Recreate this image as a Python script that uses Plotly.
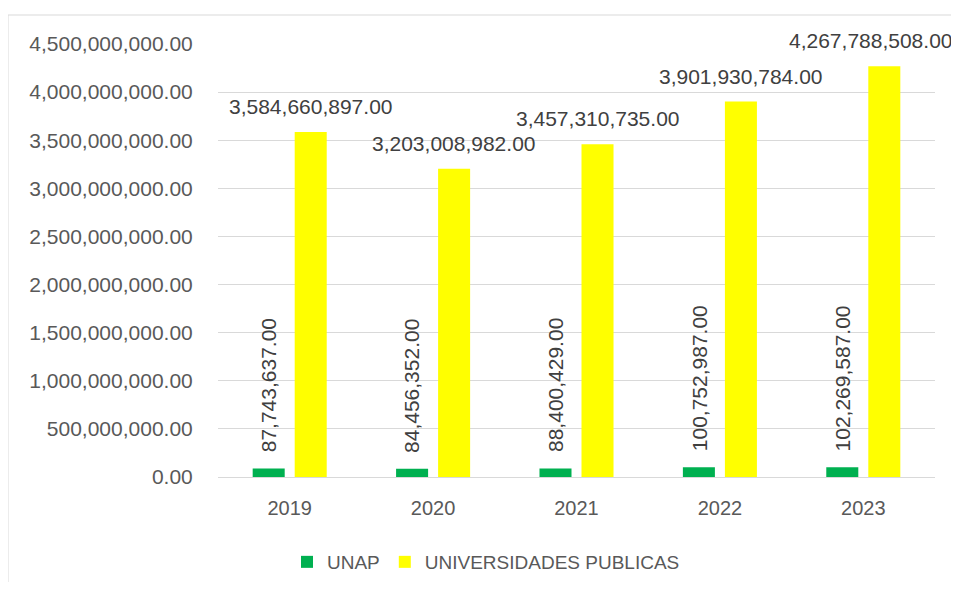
import plotly.graph_objects as go

years = ["2019", "2020", "2021", "2022", "2023"]
unap = [87743637.00, 84456352.00, 88400429.00, 100752987.00, 102269587.00]
publicas = [3584660897.00, 3203008982.00, 3457310735.00, 3901930784.00, 4267788508.00]
tick_vals = [0, 500e6, 1000e6, 1500e6, 2000e6, 2500e6, 3000e6, 3500e6, 4000e6, 4500e6]

GREEN = "#00B050"
YELLOW = "#FFFF00"
FONT = "Liberation Sans"

W, H = 951, 574
L, R, T, B = 210, 24, 36, 105
PW, PH = W - L - R, H - T - B
N = len(years)
BAR_OFF = 21          # half the distance between the two bar centres in a group (px)
LABEL_HALF = 84       # approx. half width of a horizontal value label (px)
RIGHT_LIMIT = W - 4   # keep labels inside the chart area, like Excel does

fig = go.Figure()
fig.add_trace(go.Bar(x=years, y=unap, name="UNAP", marker=dict(color=GREEN, line=dict(width=0))))
fig.add_trace(go.Bar(x=years, y=publicas, name="UNIVERSIDADES PUBLICAS",
                     marker=dict(color=YELLOW, line=dict(width=0))))

annotations = []
for i, v in enumerate(unap):
    annotations.append(dict(x=i, y=v, xref="x", yref="y", text=f"{v:,.2f}", showarrow=False,
                            textangle=-90, xshift=-BAR_OFF, yshift=14, yanchor="bottom",
                            xanchor="center", font=dict(family=FONT, size=21, color="#404040")))
for i, v in enumerate(publicas):
    cat_px = L + (i + 0.5) * PW / N
    centre = min(cat_px + BAR_OFF, RIGHT_LIMIT - LABEL_HALF)
    annotations.append(dict(x=i, y=v, xref="x", yref="y", text=f"{v:,.2f}", showarrow=False,
                            xshift=centre - cat_px, yshift=12, yanchor="bottom", xanchor="center",
                            font=dict(family=FONT, size=21, color="#404040")))

fig.update_layout(
    width=W, height=H,
    margin=dict(l=L, r=R, t=T, b=B, autoexpand=False),
    paper_bgcolor="white", plot_bgcolor="white",
    barmode="group", bargap=0.414, bargroupgap=0.238,
    font=dict(family=FONT, size=21, color="#595959"),
    xaxis=dict(type="category", range=[-0.5, N - 0.5], showgrid=False, showline=False,
               ticks="outside", ticklen=13, tickcolor="rgba(0,0,0,0)",
               tickfont=dict(size=20, color="#595959"), automargin=False),
    yaxis=dict(range=[0, 4.5e9], tickvals=tick_vals, tickformat=",.2f", showgrid=True,
               gridcolor="#D9D9D9", gridwidth=1, zeroline=True, zerolinecolor="#D9D9D9",
               zerolinewidth=1, ticks="outside", ticklen=20, tickcolor="rgba(0,0,0,0)",
               automargin=False, tickfont=dict(size=21, color="#595959")),
    legend=dict(orientation="h", x=(478 - L) / PW, y=(H - B - 554) / PH,
                xanchor="center", yanchor="middle", font=dict(size=19, color="#595959")),
    annotations=annotations,
    shapes=[dict(type="rect", xref="paper", yref="paper", x0=(0 - L) / PW, x1=1.2,
                 y0=-0.5, y1=(H - B - 7) / PH, line=dict(color="#D9D9D9", width=1),
                 layer="below")],
)

fig.write_html("out.html")
